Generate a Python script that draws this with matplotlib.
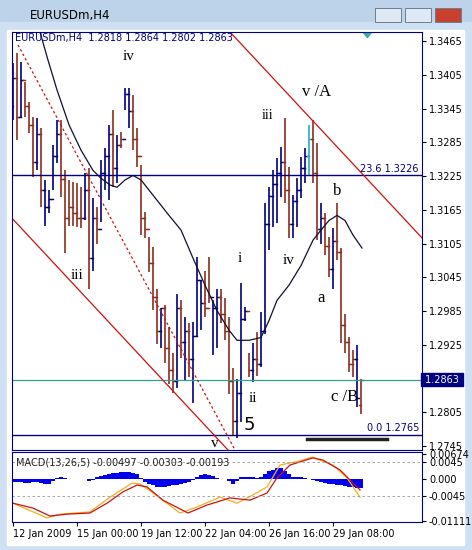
import matplotlib
matplotlib.use("Agg")
import matplotlib.pyplot as plt
from matplotlib.patches import Rectangle, Polygon
import numpy as np

highs = [1.3426,1.3444,1.3428,1.3392,1.3356,1.3330,1.3328,1.3310,1.3218,1.3200,1.3280,1.3324,1.3324,1.3235,1.3218,1.3214,1.3212,1.3205,1.3230,1.3239,1.3186,1.3170,1.3253,1.3275,1.3315,1.3342,1.3298,1.3303,1.3381,1.3381,1.3369,1.3310,1.3244,1.3161,1.3116,1.3098,1.3025,1.2990,1.2995,1.2956,1.2910,1.3016,1.3004,1.2974,1.2963,1.2965,1.3081,1.3040,1.3057,1.3081,1.3004,1.3025,1.3025,1.3008,1.2974,1.2883,1.2865,1.3034,1.2992,1.2911,1.2929,1.2947,1.2983,1.3177,1.3205,1.3235,1.3257,1.3276,1.3328,1.3241,1.3191,1.3221,1.3259,1.3275,1.3315,1.3324,1.3283,1.3177,1.3159,1.3116,1.3132,1.3177,1.3097,1.2980,1.2938,1.2915,1.2924,1.2864]
lows = [1.3324,1.3289,1.3328,1.3330,1.3301,1.3223,1.3235,1.3170,1.3137,1.3159,1.3200,1.3248,1.3187,1.3089,1.3137,1.3137,1.3134,1.3132,1.3146,1.3025,1.3057,1.3105,1.3143,1.3200,1.3182,1.3205,1.3212,1.3275,1.3342,1.3310,1.3271,1.3241,1.3120,1.3114,1.3054,1.2986,1.2927,1.2919,1.2892,1.2856,1.2840,1.2849,1.2902,1.2862,1.2867,1.2822,1.2938,1.2951,1.2974,1.2999,1.2906,1.2919,1.2963,1.2933,1.2838,1.2764,1.2760,1.2787,1.2968,1.2867,1.2858,1.2870,1.2885,1.2945,1.3093,1.3134,1.3141,1.3187,1.3177,1.3114,1.3114,1.3134,1.3186,1.3212,1.3226,1.3212,1.3111,1.3105,1.3084,1.3045,1.3025,1.3075,1.2929,1.2911,1.2876,1.2867,1.2814,1.2802]
closes = [1.3400,1.3330,1.3395,1.3350,1.3315,1.3250,1.3300,1.3200,1.3170,1.3185,1.3260,1.3300,1.3220,1.3150,1.3170,1.3160,1.3150,1.3150,1.3200,1.3080,1.3150,1.3130,1.3230,1.3260,1.3300,1.3240,1.3280,1.3290,1.3370,1.3340,1.3290,1.3260,1.3150,1.3130,1.3070,1.3010,1.2950,1.2990,1.2920,1.2880,1.2860,1.2990,1.2930,1.2950,1.2900,1.2940,1.3040,1.3000,1.2990,1.3010,1.2990,1.3010,1.2980,1.2950,1.2860,1.2790,1.2840,1.2970,1.2985,1.2880,1.2900,1.2890,1.2950,1.3140,1.3190,1.3210,1.3230,1.3250,1.3200,1.3140,1.3180,1.3200,1.3240,1.3260,1.3290,1.3230,1.3130,1.3150,1.3100,1.3060,1.3110,1.3090,1.2960,1.2930,1.2890,1.2900,1.2830,1.2863]
first_open = 1.3350
last_open = 1.2818
bar_colors = "b r b r r r b r b b b b r r r r r r b r b r b b b r b r b b r r r r r r r b r r r b r b r b b b r r b b r r r r b b b r b r b b b b b b r r b b b b c r r b r r b r r r r r b r b".split()

ma_idx = [6.75,8.75,11,14,17,20,22,24.25,26,28,30,32,35,39,42,45,48,51,54,56,59,62,64,66,69,72,75,77,79,81,83,85,87.25]
ma_val = [1.3481,1.3431,1.3378,1.3316,1.3271,1.3235,1.3221,1.3209,1.3205,1.3218,1.3226,1.3218,1.3191,1.3155,1.3129,1.3079,1.3031,1.2986,1.2951,1.2933,1.2933,1.2938,1.2968,1.3004,1.3031,1.3066,1.3111,1.3129,1.3146,1.3155,1.3146,1.3120,1.3097]

macd_hist = [-0.0008,-0.0008,-0.0009,-0.001,-0.001,-0.0009,-0.0009,-0.0011,
             -0.0014,-0.0012,-0.0004,0.0003,
             0.0004,0.0003,0.0001,0.0,0.0,0.0001,
             0.0,-0.0005,-0.0002,
             0.0004,0.0008,0.0011,0.0013,0.0015,0.0016,0.0018,0.0019,0.0019,0.0017,0.0012,0.0002,
             -0.0008,-0.0013,-0.0017,-0.0020,-0.0021,-0.0021,-0.0019,-0.0017,-0.0015,-0.0012,-0.0010,-0.0008,
             -0.0002,0.0006,0.0011,0.0012,0.0010,0.0007,
             0.0003,0.0001,0.0000,-0.0004,-0.0012,
             -0.0006,0.0004,0.0005,0.0005,0.0004,0.0003,0.0004,
             0.0012,0.0020,0.0025,0.0029,0.0028,0.0022,0.0012,
             0.0006,0.0004,0.0004,0.0003,0.0001,-0.0002,
             -0.0006,-0.0009,-0.0011,-0.0012,-0.0013,-0.0015,-0.0016,-0.0018,-0.0020,-0.0022,-0.0024,-0.0025]
red_idx = [0,5,9.25,13.5,19.25,23.5,27.5,31,33.5,37.5,43.75,48.5,54.25,59.25,63.5,66,69.25,75,77.5,81.75,86.75]
red_val = [-0.0064,-0.0077,-0.0098,-0.0093,-0.0090,-0.0064,-0.0034,-0.0016,-0.0021,-0.0056,-0.0090,-0.0069,-0.0050,-0.0056,-0.0037,0.0003,0.0037,0.0056,0.0050,0.0024,-0.0029]
yel_idx = [0,8.5,11.75,19.25,24.25,29.75,31.75,35,41.75,46,51.75,56,60,63.5,66.75,71.75,74.75,80,83.5,86.75]
yel_val = [-0.0064,-0.0103,-0.0093,-0.0087,-0.0048,-0.0011,-0.0013,-0.0037,-0.0090,-0.0074,-0.0048,-0.0064,-0.0042,-0.0021,0.0037,0.0048,0.0058,0.0037,0.0003,-0.0048]

price_ticks = [1.3465,1.3405,1.3345,1.3285,1.3225,1.3165,1.3105,1.3045,1.2985,1.2925,1.2805,1.2745]
date_idx = [0,16,32,48,64,80]
date_labels = ["12 Jan 2009","15 Jan 00:00","19 Jan 12:00","22 Jan 04:00","26 Jan 16:00","29 Jan 08:00"]

waves = [("iv",29,1.3437,11),("iii",16,1.3049,11),("i",56.75,1.3079,11),("ii",60,1.2830,11),
         ("v",50.5,1.2749,11),("iii",63.75,1.3333,10),("iv",69,1.3074,11),("v /A",76,1.3374,12),
         ("b",81,1.3198,12),("a",77,1.3008,12),("c /B",83,1.2832,12)]

NAVY = "#000080"; BROWN = "#8b2e1e"; RED = "#d01010"
cmap = {"b": NAVY, "r": BROWN, "c": "#20b0d0"}

fig = plt.figure(figsize=(4.72, 5.5), dpi=100, facecolor="#bcd3ea")
fig.patches.append(Rectangle((0, 0), 1, 1 - 22/550, transform=fig.transFigure, color="#cfe0f2", zorder=-3))
fig.patches.append(Rectangle((7/472, 5/550), 457/472, 515/550, transform=fig.transFigure, color="white", zorder=-2))
fig.text(30/472, 1 - 15/550, "EURUSDm,H4", fontsize=8.5, va="center", color="black")
for bx, bc in [(375, "#dfe9f5"), (405, "#dfe9f5"), (435, "#c8412e")]:
    fig.patches.append(Rectangle((bx/472, 1 - 22/550), 26/472, 14/550, transform=fig.transFigure,
                                 facecolor=bc, edgecolor="#6a7f95", lw=0.7))

ax = fig.add_axes([12/472, 100/550, 410/472, 418/550])
ylo, yhi = 1.2738, 1.3481
ax.set_xlim(-0.25, 102.25); ax.set_ylim(ylo, yhi)
n = len(highs)
opens = [first_open] + closes[:-1]
opens[-1] = last_open
tw = 0.55
for i in range(n):
    c = cmap[bar_colors[i]]
    ax.plot([i, i], [lows[i], highs[i]], color=c, lw=1.2, solid_capstyle="butt")
    ax.plot([i - tw, i], [opens[i], opens[i]], color=c, lw=1)
    ax.plot([i, i + tw], [closes[i], closes[i]], color=c, lw=1)
ax.plot(ma_idx, ma_val, color="#101030", lw=0.9)
ax.axhline(1.3226, color=NAVY, lw=1)
ax.axhline(1.2765, color=NAVY, lw=1)
ax.axhline(1.2863, color="#30a090", lw=0.9)
ax.text(101.5, 1.3229, "23.6 1.3226", color=NAVY, fontsize=7, ha="right", va="bottom")
ax.text(101.5, 1.2768, "0.0 1.2765", color=NAVY, fontsize=7, ha="right", va="bottom")
ax.plot([54.25, 102.25], [1.3481, 1.3115], color=RED, lw=0.9)
ax.plot([-0.25, 53.75], [1.3150, 1.2738], color=RED, lw=0.9)
ax.plot([1.25, 55.5], [1.3458, 1.2738], color=RED, lw=0.9, ls=(0, (2, 2)))
ax.plot([73.5, 93.5], [1.2757, 1.2757], color="#222222", lw=2.5)
ax.add_patch(Polygon([[87.5, 1.3481], [89.7, 1.3481], [88.6, 1.3471]], color="#30b0b0"))
for t, xi, yi, fs in waves:
    ax.text(xi, yi, t, fontsize=fs, ha="center", va="center", family="Liberation Serif", color="black")
ax.text(59, 1.2782, "5", fontsize=13, ha="center", va="center", color="black")
ax.text(0.6, 1.3470, "EURUSDm,H4  1.2818 1.2864 1.2802 1.2863", fontsize=7, color=NAVY, va="center")
ax.yaxis.tick_right()
ax.set_yticks(price_ticks)
ax.set_yticklabels([f"{p:.4f}" for p in price_ticks], fontsize=7)
ax.tick_params(axis="y", length=3, colors="black", pad=2)
ax.text(1.0, (1.2863 - ylo)/(yhi - ylo), " 1.2863 ", transform=ax.transAxes, fontsize=7, color="white",
        va="center", ha="left", bbox=dict(boxstyle="square,pad=0.15", fc=NAVY, ec=NAVY))
ax.set_xticks([])
for s in ax.spines.values():
    s.set_color(NAVY)

mx = fig.add_axes([12/472, 28/550, 410/472, 70/550])
mx.set_xlim(-0.25, 102.25); mx.set_ylim(-0.01138, 0.00715)
mx.bar(range(n), macd_hist, width=1.0, color="#0000ee")
mx.plot(yel_idx, yel_val, color="#f0b020", lw=0.9)
mx.plot(red_idx, red_val, color="#d01010", lw=0.9)
mx.axhline(0.0045, color="#999999", lw=0.6, ls=(0, (3, 3)))
mx.axhline(-0.0045, color="#999999", lw=0.6, ls=(0, (3, 3)))
mx.text(0.8, 0.0045, "MACD(13,26,5) -0.00497 -0.00303 -0.00193", fontsize=7, color="#222222", va="center")
mx.yaxis.tick_right()
mx.set_yticks([0.00674, 0.0045, 0.0, -0.0045, -0.01111])
mx.set_yticklabels(["0.00674", "0.0045", "0.000", "-0.0045", "-0.01111"], fontsize=7)
mx.tick_params(axis="y", length=3, pad=2)
mx.set_xticks(date_idx)
mx.set_xticklabels(date_labels, fontsize=7, ha="left")
mx.tick_params(axis="x", length=3, pad=2)
for s in mx.spines.values():
    s.set_color(NAVY)

fig.savefig("out.png", dpi=100, facecolor=fig.get_facecolor())
